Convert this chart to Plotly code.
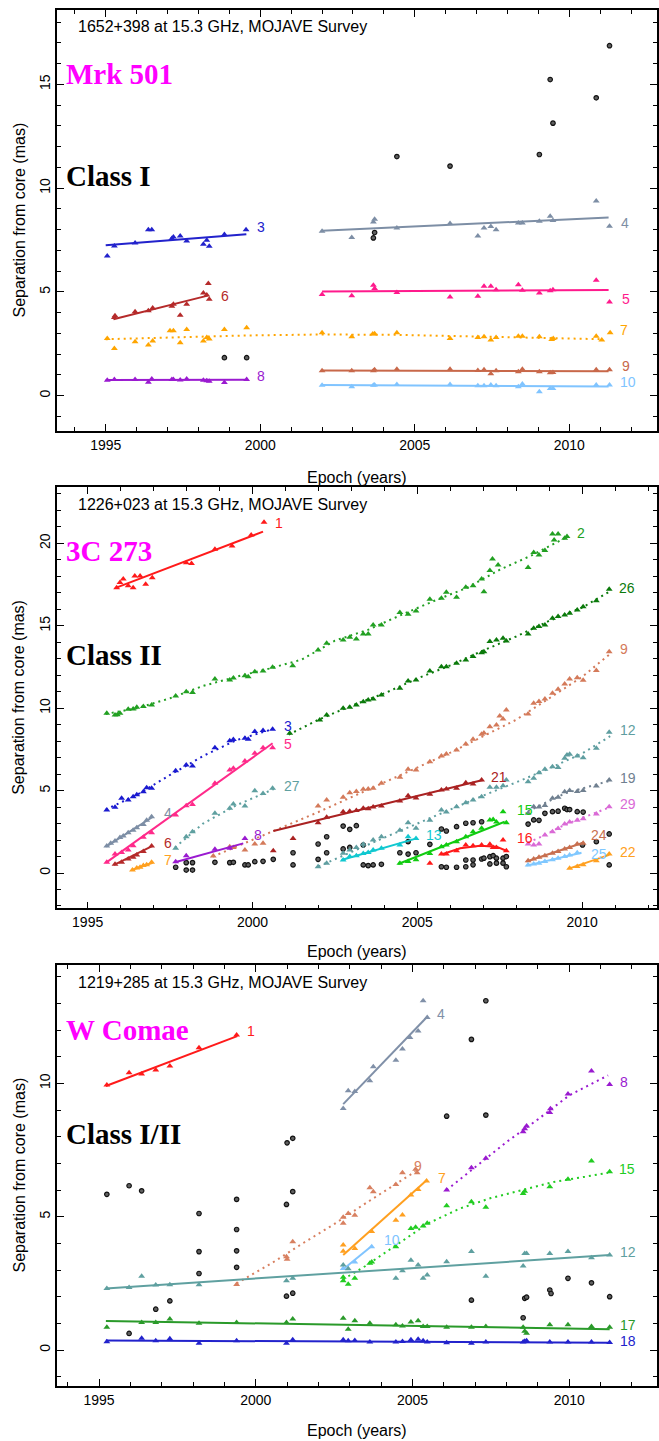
import plotly.graph_objects as go

W, H = 659, 1441

# ===================== 1652+398 (Mrk 501) =====================
mrk_c3_t = [1995.05, 1995.28, 1995.95, 1996.38, 1996.49, 1997.14, 1997.19, 1997.41, 1997.62, 1998.16, 1998.27, 1998.35, 1998.84, 1999.54]
mrk_c3_r = [6.73, 7.21, 7.36, 8.0, 8.0, 7.57, 7.64, 7.69, 7.45, 7.29, 7.49, 7.2, 7.77, 8.0]
mrk_c3_fit_t = [1995.0, 1999.55]
mrk_c3_fit_r = [7.25, 7.78]

mrk_c6_t = [1995.28, 1995.3, 1995.95, 1996.38, 1996.52, 1997.14, 1997.19, 1997.41, 1997.62, 1998.16, 1998.27, 1998.32, 1998.35]
mrk_c6_r = [3.77, 3.85, 4.04, 4.09, 4.23, 4.31, 4.4, 3.88, 4.41, 4.95, 4.85, 5.4, 4.65]
mrk_c6_fit_t = [1995.25, 1998.3]
mrk_c6_fit_r = [3.68, 4.82]

mrk_c7_t = [1995.05, 1995.28, 1995.95, 1996.38, 1996.52, 1997.08, 1997.19, 1997.41, 1997.62, 1998.16, 1998.27, 1998.35, 1998.84, 1999.56,
            2002.0, 2002.96, 2003.64, 2003.7, 2004.42, 2006.14, 2007.04, 2007.24, 2007.46, 2007.63, 2008.35, 2008.48, 2009.03, 2009.43,
            2009.48, 2010.87, 2011.05, 2011.32]
mrk_c7_r = [2.76, 2.28, 2.6, 2.44, 2.63, 3.13, 3.13, 2.55, 3.19, 2.63, 2.81, 2.73, 3.19, 3.27,
            3.03, 2.84, 2.97, 2.99, 3.03, 2.76, 2.81, 2.84, 2.68, 2.81, 2.87, 2.87, 2.84, 2.71,
            2.76, 2.87, 2.68, 3.03]
mrk_c7_fit_t = [1995.0, 1997.0, 1999.5, 2002.0, 2004.5, 2007.0, 2009.0, 2011.1]
mrk_c7_fit_r = [2.72, 2.8, 2.9, 2.95, 2.93, 2.85, 2.78, 2.72]

mrk_c8_t = [1995.05, 1995.28, 1995.95, 1996.38, 1996.49, 1997.14, 1997.19, 1997.41, 1997.62, 1998.16, 1998.27, 1998.35, 1998.84, 1999.56]
mrk_c8_r = [0.75, 0.78, 0.78, 0.65, 0.8, 0.78, 0.78, 0.76, 0.8, 0.75, 0.72, 0.7, 0.64, 0.78]
mrk_c8_fit_t = [1995.0, 1999.56]
mrk_c8_fit_r = [0.76, 0.77]

mrk_late_t = [2002.0, 2002.96, 2003.66, 2003.7, 2004.42, 2006.14, 2007.04, 2007.24, 2007.46, 2007.63, 2008.35, 2008.48, 2009.03,
              2009.38, 2009.47, 2010.87, 2011.3]
mrk_c4_r = [7.92, 7.62, 8.37, 8.5, 8.08, 8.29, 7.69, 8.08, 8.15, 8.0, 8.32, 8.32, 8.4, 8.64, 8.44, 9.38, 8.16]
mrk_c4_fit_t = [2002.0, 2011.27]
mrk_c4_fit_r = [7.95, 8.58]
mrk_c5_r = [4.87, 4.81, 5.32, 5.16, 4.97, 4.76, 4.79, 5.27, 5.27, 5.11, 5.35, 5.08, 4.95, 5.05, 5.1, 5.56, 4.52]
mrk_c5_fit_t = [2002.0, 2011.27]
mrk_c5_fit_r = [5.02, 5.09]
mrk_c9_r = [1.2, 1.2, 1.2, 1.25, 1.28, 1.28, 1.22, 1.25, 1.06, 1.2, 1.16, 1.28, 1.16, 1.1, 1.12, 1.25, 1.25]
mrk_c9_fit_t = [2002.0, 2011.27]
mrk_c9_fit_r = [1.22, 1.18]
mrk_c10_r = [0.5, 0.43, 0.5, 0.52, 0.54, 0.54, 0.48, 0.48, 0.52, 0.48, 0.43, 0.56, 0.19, 0.35, 0.35, 0.52, 0.52]
mrk_c10_fit_t = [2002.0, 2011.27]
mrk_c10_fit_r = [0.52, 0.44]

mrk_other_t = [1998.84, 1999.56, 2003.66, 2003.7, 2004.42, 2006.14, 2009.03, 2009.38, 2009.47, 2010.87, 2011.3]
mrk_other_r = [1.83, 1.83, 7.6, 7.86, 11.52, 11.06, 11.62, 15.23, 13.13, 14.35, 16.86]

# ===================== 1226+023 (3C 273) =====================
c273_c1_t = [1995.88, 1995.98, 1996.08, 1996.23, 1996.38, 1996.43, 1996.59, 1996.76, 1996.96, 1997.99, 1998.15, 1998.86, 1999.38, 1999.96, 2000.35]
c273_c1_r = [17.31, 17.62, 17.84, 17.42, 17.31, 18.02, 18.02, 17.52, 17.92, 18.83, 18.77, 19.64, 19.84, 20.51, 21.28]
c273_c1_fit_t = [1995.83, 2000.32]
c273_c1_fit_r = [17.28, 20.71]

c273_c2_t = [1995.58, 1995.83, 1995.9, 1995.98, 1996.23, 1996.38, 1996.49, 1996.69, 1996.94, 1997.67,
             1997.99, 1998.18, 1998.86, 1999.31, 1999.42, 1999.77, 1999.87, 2000.07, 2000.32, 2000.61,
             2001.22, 2001.99, 2002.25, 2002.75, 2002.95, 2003.15, 2003.36, 2003.51, 2003.66, 2003.91,
             2004.47, 2004.72, 2004.96, 2005.38, 2005.73, 2005.88, 2006.19, 2006.47, 2006.69, 2006.95,
             2007.02, 2007.2, 2007.28, 2007.45, 2008.36, 2008.53, 2008.69, 2008.87, 2009.1, 2009.15,
             2009.27, 2009.47, 2009.54]
c273_c2_r = [9.69, 9.59, 9.6, 9.69, 9.93, 9.95, 10.05, 10.1, 10.19, 10.74,
             11.0, 10.95, 11.77, 11.71, 11.83, 11.97, 11.9, 12.21, 12.26, 12.48,
             12.58, 13.53, 13.94, 14.14, 14.3, 14.2, 14.5, 14.5, 15.05, 15.05,
             15.8, 15.7, 15.9, 16.61, 16.67, 17.03, 16.73, 17.34, 17.42, 17.84,
             17.07, 18.35, 19.05, 18.69, 18.53, 19.44, 19.3, 19.56, 20.57, 20.21,
             20.57, 20.31, 20.41]
c273_c2_fit_t = [1995.55, 1996.5, 1997.5, 1998.5, 1999.5, 2000.5, 2001.5, 2002.5, 2003.5, 2004.5, 2005.5, 2006.5, 2007.5, 2008.5, 2009.55]
c273_c2_fit_r = [9.65, 10.0, 10.6, 11.35, 11.9, 12.4, 12.95, 14.1, 14.75, 15.65, 16.5, 17.3, 18.4, 19.3, 20.4]

c273_c26_t = [2001.13, 2002.04, 2002.25, 2002.75, 2002.95, 2003.15, 2003.36, 2003.51, 2003.66, 2003.91,
              2004.47, 2004.72, 2004.96, 2005.38, 2005.73, 2005.88, 2006.19, 2006.47, 2006.69, 2006.95,
              2007.02, 2007.2, 2007.4, 2007.6, 2007.7, 2008.36, 2008.53, 2008.69, 2008.87, 2009.1,
              2009.27, 2009.47, 2009.62, 2009.85, 2010.03, 2010.43, 2010.82]
c273_c26_r = [8.48, 9.28, 9.59, 9.99, 10.05, 10.2, 10.39, 10.5, 10.56, 10.8,
              11.21, 11.65, 11.71, 12.26, 12.52, 12.52, 12.72, 12.92, 13.13, 13.37,
              13.43, 14.04, 14.14, 14.24, 14.08, 14.5, 14.85, 14.95, 15.05, 15.46,
              15.56, 15.66, 15.76, 15.96, 16.16, 16.52, 17.21]
c273_c26_fit_t = [2001.1, 2002.0, 2003.0, 2004.0, 2005.0, 2006.0, 2007.0, 2008.0, 2009.0, 2010.0, 2010.85]
c273_c26_fit_r = [8.4, 9.3, 10.15, 10.9, 11.8, 12.6, 13.5, 14.35, 15.3, 16.1, 17.1]

c273_c9_t = [1998.81, 1999.31, 1999.42, 1999.77, 2000.07, 2000.32, 2001.99, 2002.25, 2002.75, 2002.95,
             2003.15, 2003.36, 2003.51, 2003.66, 2003.91, 2004.47, 2004.72, 2004.96, 2005.38, 2005.73,
             2005.88, 2006.19, 2006.47, 2006.69, 2006.95, 2007.02, 2007.2, 2007.4, 2007.5, 2007.6,
             2007.7, 2008.36, 2008.53, 2008.69, 2008.87, 2009.1, 2009.27, 2009.47, 2009.62, 2009.85,
             2010.03, 2010.43, 2010.82]
c273_c9_r = [1.03, 1.6, 1.55, 1.4, 1.76, 1.8, 4.07, 4.43, 4.59, 4.87,
             4.95, 5.08, 5.1, 5.15, 5.44, 5.81, 6.29, 6.25, 6.75, 7.1,
             7.22, 7.46, 7.83, 8.11, 8.42, 8.5, 8.88, 8.98, 9.53, 9.35,
             9.89, 9.65, 10.3, 10.4, 10.55, 10.9, 11.15, 11.47, 11.77, 11.85,
             11.7, 12.28, 13.43]
c273_c9_fit_t = [1998.8, 2000.0, 2001.0, 2002.0, 2003.0, 2004.0, 2005.0, 2006.0, 2007.0, 2008.0, 2009.0, 2010.0, 2010.85]
c273_c9_fit_r = [1.0, 2.0, 2.85, 3.7, 4.6, 5.5, 6.4, 7.3, 8.3, 9.3, 10.6, 11.9, 13.3]

c273_c3_t = [1995.58, 1995.83, 1996.03, 1996.23, 1996.38, 1996.49, 1996.69, 1996.79, 1996.94, 1997.67,
             1997.99, 1998.18, 1998.86, 1999.31, 1999.42, 1999.77, 1999.87, 2000.07, 2000.32, 2000.61]
c273_c3_r = [3.82, 3.99, 4.53, 4.43, 4.63, 4.75, 4.93, 5.18, 5.15, 6.21,
             6.55, 6.5, 7.6, 8.03, 8.1, 8.17, 8.12, 8.58, 8.64, 8.72]
c273_c3_fit_t = [1995.55, 1996.5, 1997.5, 1998.5, 1999.5, 2000.65]
c273_c3_fit_r = [3.85, 4.75, 5.95, 7.1, 8.05, 8.75]

c273_c5_t = [1995.58, 1995.83, 1996.03, 1996.23, 1996.38, 1996.69, 1996.94, 1997.67, 1997.99, 1998.18,
             1998.86, 1999.31, 1999.42, 1999.77, 2000.07, 2000.32, 2000.61]
c273_c5_r = [0.65, 1.15, 1.25, 1.4, 1.66, 2.17, 2.45, 3.52, 4.08, 4.15,
             5.44, 6.25, 6.35, 6.8, 7.26, 7.6, 7.6]
c273_c5_fit_t = [1995.56, 2000.61]
c273_c5_fit_r = [0.63, 7.87]

c273_c4_t = [1995.58, 1995.7, 1995.83, 1995.98, 1996.08, 1996.23, 1996.38, 1996.49, 1996.69, 1996.79, 1996.94]
c273_c4_r = [1.64, 1.8, 1.95, 2.15, 2.25, 2.45, 2.6, 2.75, 2.95, 3.2, 3.42]
c273_c4_fit_t = [1995.56, 1996.97]
c273_c4_fit_r = [1.6, 3.4]

c273_c6_t = [1995.83, 1996.03, 1996.23, 1996.38, 1996.49, 1996.69, 1996.94]
c273_c6_r = [0.53, 0.65, 0.85, 0.95, 1.1, 1.3, 1.64]
c273_c6_fit_t = [1995.8, 1996.97]
c273_c6_fit_r = [0.5, 1.65]

c273_c7_t = [1996.36, 1996.49, 1996.59, 1996.69, 1996.79, 1996.94]
c273_c7_r = [0.18, 0.3, 0.35, 0.45, 0.5, 0.65]
c273_c7_fit_t = [1996.36, 1996.97]
c273_c7_fit_r = [0.2, 0.62]

c273_c27_t = [1997.67, 1997.99, 1998.18, 1998.86, 1999.31, 1999.42, 1999.77, 2000.07, 2000.32, 2000.61]
c273_c27_r = [1.5, 2.2, 2.5, 3.62, 3.93, 4.19, 4.07, 4.99, 4.83, 5.14]
c273_c27_fit_t = [1997.65, 1998.5, 1999.5, 2000.65]
c273_c27_fit_r = [1.55, 3.0, 4.1, 5.1]

c273_c8_t = [1997.67, 1997.99, 1998.86, 1999.31, 1999.77]
c273_c8_r = [0.69, 1.05, 1.44, 1.5, 2.1]
c273_c8_fit_t = [1997.65, 1999.72]
c273_c8_fit_r = [0.65, 1.8]

c273_c21_t = [2000.63, 2001.23, 2001.99, 2002.25, 2002.75, 2002.95, 2003.15, 2003.36, 2003.51, 2003.66,
              2003.91, 2004.47, 2004.72, 2004.96, 2005.38, 2005.73, 2005.88, 2006.19, 2006.47, 2006.69, 2006.95]
c273_c21_r = [1.35, 2.1, 3.05, 3.38, 3.72, 3.75, 3.8, 3.93, 3.9, 4.0,
              4.07, 4.37, 4.69, 4.55, 4.78, 5.04, 5.1, 5.14, 5.48, 5.4, 5.64]
c273_c21_fit_t = [2000.63, 2006.99]
c273_c21_fit_r = [2.55, 5.64]

c273_c12_t = [2001.99, 2002.25, 2002.75, 2002.95, 2003.15, 2003.36, 2003.66, 2003.91, 2004.47, 2004.72,
              2004.96, 2005.38, 2005.73, 2005.88, 2006.19, 2006.47, 2006.69, 2006.95, 2007.2, 2007.4,
              2007.6, 2007.7, 2008.36, 2008.53, 2008.69, 2008.87, 2009.1, 2009.27, 2009.47, 2009.54,
              2009.62, 2009.85, 2010.03, 2010.43, 2010.82]
c273_c12_r = [0.38, 0.59, 1.2, 1.4, 1.55, 1.75, 2.0, 2.2, 2.6, 3.05,
              2.71, 3.2, 3.82, 3.7, 4.02, 4.27, 4.43, 4.63, 5.2, 5.2,
              5.3, 5.64, 5.54, 5.75, 6.09, 6.29, 6.45, 6.4, 6.96, 7.16,
              7.2, 7.1, 7.0, 7.57, 8.54]
c273_c12_fit_t = [2002.0, 2003.0, 2004.0, 2005.0, 2006.0, 2007.0, 2008.0, 2009.0, 2010.0, 2010.85]
c273_c12_fit_r = [0.4, 1.3, 2.15, 3.0, 3.85, 4.7, 5.5, 6.35, 7.25, 8.3]

c273_c13_t = [2002.75, 2002.95, 2003.15, 2003.36, 2003.51, 2003.66, 2003.91, 2004.47, 2004.72, 2004.96]
c273_c13_r = [0.79, 1.0, 1.05, 1.19, 1.25, 1.4, 1.5, 1.7, 2.2, 2.1]
c273_c13_fit_t = [2002.7, 2004.98]
c273_c13_fit_r = [0.79, 2.1]

c273_c15_t = [2004.47, 2004.72, 2004.96, 2005.38, 2005.73, 2005.88, 2006.19, 2006.47, 2006.69, 2006.95, 2007.2, 2007.3, 2007.4, 2007.6, 2007.7]
c273_c15_r = [0.59, 0.7, 0.8, 1.19, 1.6, 1.7, 1.9, 2.2, 2.5, 2.71, 3.22, 3.25, 3.1, 3.72, 3.05]
c273_c15_fit_t = [2004.42, 2007.65]
c273_c15_fit_r = [0.55, 3.11]

c273_c16_t = [2005.38, 2005.73, 2005.88, 2006.19, 2006.47, 2006.69, 2006.95, 2007.2, 2007.3, 2007.4, 2007.6, 2007.7]
c273_c16_r = [0.59, 1.15, 1.15, 1.35, 1.7, 1.65, 1.7, 1.75, 1.55, 1.55, 2.0, 1.35]
c273_c16_fit_t = [2005.73, 2006.3, 2006.9, 2007.4, 2007.7]
c273_c16_fit_r = [1.12, 1.5, 1.65, 1.6, 1.35]

c273_late_t = [2008.36, 2008.53, 2008.69, 2008.87, 2009.1, 2009.27, 2009.47, 2009.62, 2009.85, 2010.03, 2010.43, 2010.82]
c273_c19_r = [3.62, 4.02, 4.0, 4.1, 4.53, 4.6, 4.93, 5.0, 4.95, 5.0, 5.28, 5.64]
c273_c19_fit_t = [2008.36, 2009.5, 2010.85]
c273_c19_fit_r = [3.75, 4.85, 5.6]
c273_c29_r = [1.76, 1.7, 1.76, 2.31, 2.5, 2.7, 2.97, 3.1, 3.2, 3.3, 3.58, 4.02]
c273_c29_fit_t = [2008.36, 2008.7, 2009.5, 2010.85]
c273_c29_fit_r = [1.85, 2.15, 2.95, 4.0]

c273_c24_t = [2008.36, 2008.53, 2008.69, 2008.87, 2009.1, 2009.27, 2009.47, 2009.62, 2009.85, 2010.03]
c273_c24_r = [0.75, 0.85, 0.95, 1.05, 1.2, 1.3, 1.45, 1.55, 1.76, 1.8]
c273_c24_fit_t = [2008.31, 2010.03]
c273_c24_fit_r = [0.7, 1.84]

c273_c25_t = [2008.36, 2008.53, 2008.69, 2008.87, 2009.1, 2009.27, 2009.47, 2009.62, 2009.85]
c273_c25_r = [0.49, 0.55, 0.6, 0.7, 0.8, 0.9, 1.0, 1.1, 1.23]
c273_c25_fit_t = [2008.31, 2009.98]
c273_c25_fit_r = [0.45, 1.23]

c273_c22_t = [2009.62, 2009.85, 2010.03, 2010.43, 2010.82]
c273_c22_r = [0.29, 0.4, 0.5, 0.75, 1.15]
c273_c22_fit_t = [2009.62, 2010.82]
c273_c22_fit_r = [0.28, 1.1]

c273_other_t = [1997.67, 1997.99, 1998.18, 1997.99, 1998.18, 1998.86, 1999.31, 1999.42, 1999.77, 1999.87,
                2000.07, 2000.32, 2000.63, 2001.23, 2001.23, 2001.99, 2002.25, 2001.99, 2002.25, 2002.75,
                2002.95, 2003.15, 2002.75, 2002.95, 2003.36, 2003.36, 2003.51, 2003.66, 2003.91, 2004.47,
                2004.72, 2004.96, 2004.72, 2005.38, 2005.73, 2005.88, 2006.19, 2006.47, 2006.69, 2006.95,
                2005.73, 2005.88, 2006.19, 2006.47, 2006.47, 2006.69, 2006.69, 2006.95, 2007.02, 2007.2,
                2007.3, 2007.4, 2007.6, 2007.7, 2007.2, 2007.4, 2007.6, 2007.7, 2008.36, 2008.53,
                2008.69, 2008.87, 2009.1, 2009.27, 2009.47, 2009.54, 2009.62, 2009.85, 2010.03, 2010.01,
                2010.43, 2010.82, 2010.82]
c273_other_r = [0.35, 0.63, 0.63, 0.18, 0.18, 0.65, 0.63, 0.65, 0.49, 0.49,
                0.69, 0.71, 0.83, 1.23, 0.49, 1.76, 2.2, 0.83, 1.23, 2.85,
                2.65, 2.87, 1.46, 1.55, 1.7, 0.49, 0.45, 0.49, 0.53, 1.23,
                1.15, 1.23, 1.9, 1.74, 2.67, 2.55, 2.81, 3.02, 3.05, 3.11,
                0.38, 0.35, 0.35, 0.38, 0.79, 0.79, 0.5, 0.85, 0.9, 0.99,
                1.05, 0.9, 0.9, 1.0, 0.55, 0.6, 0.6, 0.38, 2.97, 3.22,
                3.2, 3.62, 3.72, 3.75, 3.93, 3.85, 3.85, 3.72, 3.7, 1.7,
                1.9, 2.37, 0.49]

# ===================== 1219+285 (W Comae) =====================
wc_c1_t = [1995.25, 1995.96, 1996.36, 1996.81, 1997.26, 1998.19, 1999.39]
wc_c1_r = [9.94, 10.4, 10.35, 10.5, 10.65, 11.34, 11.81]
wc_c1_fit_t = [1995.22, 1999.41]
wc_c1_fit_r = [9.9, 11.77]

wc_c4_t = [2002.79, 2002.95, 2003.16, 2003.64, 2003.75, 2004.47, 2004.68, 2004.92, 2005.18, 2005.34, 2005.47]
wc_c4_r = [9.06, 9.72, 9.7, 10.1, 10.62, 10.87, 11.29, 11.72, 11.96, 13.1, 12.47]
wc_c4_fit_t = [2002.79, 2005.47]
wc_c4_fit_r = [9.22, 12.5]

wc_c8_t = [2006.09, 2006.88, 2007.34, 2008.53, 2008.58, 2008.64, 2009.38, 2009.4, 2009.96, 2010.71, 2011.29]
wc_c8_r = [6.0, 6.84, 7.19, 8.19, 8.3, 8.4, 8.91, 9.05, 9.6, 10.46, 9.96]
wc_c8_fit_t = [2006.09, 2007.0, 2008.0, 2009.0, 2010.0, 2011.24]
wc_c8_fit_r = [6.0, 6.85, 7.8, 8.65, 9.55, 10.3]

wc_c15_t = [2002.79, 2002.79, 2002.95, 2003.16, 2003.64, 2003.7, 2004.47, 2004.95, 2005.1, 2005.34,
            2005.47, 2006.09, 2006.88, 2007.34, 2008.53, 2008.58, 2009.38, 2009.96, 2010.71, 2011.29]
wc_c15_r = [2.73, 2.6, 2.47, 2.69, 3.25, 3.3, 3.87, 4.56, 4.6, 4.65,
            4.75, 5.41, 5.56, 5.35, 5.87, 5.95, 6.12, 6.4, 7.09, 6.69]
wc_c15_fit_t = [2002.79, 2003.5, 2004.5, 2005.5, 2006.5, 2007.5, 2008.5, 2009.5, 2010.5, 2011.24]
wc_c15_fit_r = [2.65, 3.15, 3.95, 4.75, 5.3, 5.7, 6.0, 6.3, 6.5, 6.65]

wc_c9_t = [1999.39, 2000.98, 2001.0, 2001.18, 2002.79, 2002.79, 2002.95, 2003.16, 2003.64, 2003.75, 2004.47, 2004.68, 2005.1, 2005.15]
wc_c9_r = [2.46, 3.5, 3.4, 4.06, 4.75, 4.98, 5.12, 5.05, 6.09, 5.94, 6.21, 6.65, 6.78, 6.65]
wc_c9_fit_t = [1999.39, 2000.5, 2001.5, 2002.5, 2003.5, 2004.5, 2005.1]
wc_c9_fit_r = [2.5, 3.25, 4.0, 4.72, 5.5, 6.25, 6.7]

wc_c7_t = [2002.79, 2002.79, 2003.16, 2003.7, 2004.47, 2004.68, 2004.95, 2005.18, 2005.45]
wc_c7_r = [3.94, 3.7, 3.81, 4.44, 4.87, 5.06, 5.81, 6.02, 6.34]
wc_c7_fit_t = [2002.79, 2005.45]
wc_c7_fit_r = [3.56, 6.37]

wc_c10_t = [2002.79, 2003.16, 2003.7]
wc_c10_r = [3.06, 3.3, 3.87]
wc_c10_fit_t = [2002.79, 2003.72]
wc_c10_fit_r = [3.03, 3.92]

wc_c12_t = [1995.25, 1995.96, 1996.36, 1996.81, 1997.26, 1998.19, 2000.98, 2001.18, 2002.79, 2002.95,
            2004.47, 2004.68, 2004.95, 2005.18, 2005.34, 2005.47, 2006.09, 2006.88, 2007.34, 2008.53,
            2008.58, 2008.64, 2009.38, 2009.96, 2010.71, 2011.29]
wc_c12_r = [2.31, 2.34, 2.77, 2.44, 2.45, 2.45, 2.6, 2.69, 3.19, 3.05,
            2.69, 2.97, 3.37, 3.19, 2.69, 2.81, 3.31, 3.69, 2.77, 3.15,
            3.62, 3.62, 3.62, 3.69, 3.46, 3.56]
wc_c12_fit_t = [1995.22, 2011.29]
wc_c12_fit_r = [2.31, 3.56]

wc_core_t = [1995.25, 1996.36, 1996.81, 1997.26, 1998.19, 1999.39, 2000.98, 2001.18, 2002.79, 2002.95,
             2003.16, 2003.64, 2004.47, 2004.68, 2004.95, 2005.18, 2005.34, 2005.47, 2006.09, 2006.88,
             2007.34, 2008.53, 2008.58, 2008.64, 2009.38, 2009.96, 2010.71, 2011.29]
wc_c17_r = [0.85, 1.03, 1.03, 1.16, 1.0, 1.03, 1.03, 1.16, 1.19, 0.78,
            1.1, 1.0, 0.95, 0.9, 1.05, 1.1, 0.88, 0.88, 0.85, 0.85,
            0.88, 0.85, 0.7, 0.63, 0.95, 0.95, 0.88, 0.85]
wc_c17_fit_t = [1995.22, 2011.29]
wc_c17_fit_r = [1.09, 0.78]
wc_c18_r = [0.31, 0.44, 0.35, 0.42, 0.25, 0.35, 0.25, 0.38, 0.38, 0.35,
            0.36, 0.3, 0.3, 0.32, 0.38, 0.4, 0.35, 0.3, 0.27, 0.25,
            0.3, 0.3, 0.33, 0.35, 0.3, 0.3, 0.3, 0.28]
wc_c18_fit_t = [1995.22, 2011.29]
wc_c18_fit_r = [0.36, 0.27]

wc_other_t = [1995.25, 1995.96, 1996.36, 1995.96, 1996.81, 1997.26, 1998.19, 1998.19, 1998.19, 1999.39,
              1999.39, 1999.39, 1999.39, 2000.98, 2001.18, 2001.0, 2001.18, 2000.98, 2001.18, 2006.88,
              2007.34, 2006.88, 2006.09, 2007.34, 2008.53, 2008.58, 2008.64, 2009.38, 2009.42, 2009.96,
              2010.71, 2011.29]
wc_other_r = [5.84, 6.16, 5.97, 0.62, 1.53, 1.84, 5.12, 3.69, 2.87, 5.65,
              4.52, 3.72, 3.1, 5.46, 5.94, 7.77, 7.94, 2.02, 2.13, 1.87,
              13.1, 11.65, 8.77, 8.81, 1.21, 1.94, 1.98, 2.25, 2.12, 2.69,
              2.52, 2.0]

# ------------------------------------------------------------------
SOLID = "solid"
DOTTED = "2px,4px"

panels = [
    dict(
        ax="", xr=[1993.424, 2012.836], yr=[-1.70, 18.58], top=10, bottom=431,
        header="1652+398 at 15.3 GHz, MOJAVE Survey", name="Mrk 501", cls="Class I",
        name_y=74, cls_y=176, title_y=477,
        other=(mrk_other_t, mrk_other_r),
        series=[
            ("3", mrk_c3_t, mrk_c3_r, mrk_c3_fit_t, mrk_c3_fit_r, "#2222cc", SOLID, 9, 7),
            ("6", mrk_c6_t, mrk_c6_r, mrk_c6_fit_t, mrk_c6_fit_r, "#b52a2a", SOLID, 11, 0),
            ("7", mrk_c7_t, mrk_c7_r, mrk_c7_fit_t, mrk_c7_fit_r, "#ffa500", DOTTED, 15, 9),
            ("8", mrk_c8_t, mrk_c8_r, mrk_c8_fit_t, mrk_c8_fit_r, "#9a1ad0", SOLID, 8, 4),
            ("4", mrk_late_t, mrk_c4_r, mrk_c4_fit_t, mrk_c4_fit_r, "#7d8ea5", SOLID, 10, -5),
            ("5", mrk_late_t, mrk_c5_r, mrk_c5_fit_t, mrk_c5_fit_r, "#ff1a8c", SOLID, 11, -9),
            ("9", mrk_late_t, mrk_c9_r, mrk_c9_fit_t, mrk_c9_fit_r, "#c8684a", SOLID, 11, 5),
            ("10", mrk_late_t, mrk_c10_r, mrk_c10_fit_t, mrk_c10_fit_r, "#80c4ff", SOLID, 9, 5),
        ],
    ),
    dict(
        ax="2", xr=[1994.07, 2012.27], yr=[-2.14, 23.40], top=487.3, bottom=908.3,
        header="1226+023 at 15.3 GHz, MOJAVE Survey", name="3C 273", cls="Class II",
        name_y=551, cls_y=655, title_y=951,
        other=(c273_other_t, c273_other_r),
        series=[
            ("1", c273_c1_t, c273_c1_r, c273_c1_fit_t, c273_c1_fit_r, "#ff1a1a", SOLID, 10, 9),
            ("2", c273_c2_t, c273_c2_r, c273_c2_fit_t, c273_c2_fit_r, "#22a022", DOTTED, 8, 4),
            ("26", c273_c26_t, c273_c26_r, c273_c26_fit_t, c273_c26_fit_r, "#0b7a0b", DOTTED, 7, 3),
            ("9", c273_c9_t, c273_c9_r, c273_c9_fit_t, c273_c9_fit_r, "#d47a5a", DOTTED, 8, 5),
            ("3", c273_c3_t, c273_c3_r, c273_c3_fit_t, c273_c3_fit_r, "#1a1ad0", DOTTED, 8, 3),
            ("5", c273_c5_t, c273_c5_r, c273_c5_fit_t, c273_c5_fit_r, "#ff2a8a", SOLID, 9, -1),
            ("27", c273_c27_t, c273_c27_r, c273_c27_fit_t, c273_c27_fit_r, "#5fa0a0", DOTTED, 8, 3),
            ("4", c273_c4_t, c273_c4_r, c273_c4_fit_t, c273_c4_fit_r, "#7d8ea5", SOLID, 9, 4),
            ("6", c273_c6_t, c273_c6_r, c273_c6_fit_t, c273_c6_fit_r, "#b52a2a", SOLID, 9, 3),
            ("7", c273_c7_t, c273_c7_r, c273_c7_fit_t, c273_c7_fit_r, "#ffa020", SOLID, 9, 3),
            ("8", c273_c8_t, c273_c8_r, c273_c8_fit_t, c273_c8_fit_r, "#9a1ad0", SOLID, 9, 8),
            ("21", c273_c21_t, c273_c21_r, c273_c21_fit_t, c273_c21_fit_r, "#aa2222", SOLID, 6, 3),
            ("12", c273_c12_t, c273_c12_r, c273_c12_fit_t, c273_c12_fit_r, "#5f9ea0", DOTTED, 8, 6),
            ("13", c273_c13_t, c273_c13_r, c273_c13_fit_t, c273_c13_fit_r, "#10c8d0", SOLID, 7, 3),
            ("15", c273_c15_t, c273_c15_r, c273_c15_fit_t, c273_c15_fit_r, "#11cc11", SOLID, 10, 12),
            ("16", c273_c16_t, c273_c16_r, c273_c16_fit_t, c273_c16_fit_r, "#ff1a1a", SOLID, 9, 13),
            ("19", c273_late_t, c273_c19_r, c273_c19_fit_t, c273_c19_fit_r, "#708090", DOTTED, 8, 3),
            ("29", c273_late_t, c273_c29_r, c273_c29_fit_t, c273_c29_fit_r, "#da6ad6", DOTTED, 8, 3),
            ("24", c273_c24_t, c273_c24_r, c273_c24_fit_t, c273_c24_fit_r, "#c87050", SOLID, 6, 8),
            ("25", c273_c25_t, c273_c25_r, c273_c25_fit_t, c273_c25_fit_r, "#80c8ff", SOLID, 7, -1),
            ("22", c273_c22_t, c273_c22_r, c273_c22_fit_t, c273_c22_fit_r, "#ffa020", SOLID, 9, 3),
        ],
    ),
    dict(
        ax="3", xr=[1993.66, 2012.80], yr=[-1.35, 14.44], top=965, bottom=1386,
        header="1219+285 at 15.3 GHz, MOJAVE Survey", name="W Comae", cls="Class I/II",
        name_y=1030, cls_y=1134, title_y=1430,
        other=(wc_other_t, wc_other_r),
        series=[
            ("1", wc_c1_t, wc_c1_r, wc_c1_fit_t, wc_c1_fit_r, "#ff1a1a", SOLID, 8, 5),
            ("4", wc_c4_t, wc_c4_r, wc_c4_fit_t, wc_c4_fit_r, "#8090a8", SOLID, 8, 3),
            ("8", wc_c8_t, wc_c8_r, wc_c8_fit_t, wc_c8_fit_r, "#9a1ad0", DOTTED, 10, -7),
            ("15", wc_c15_t, wc_c15_r, wc_c15_fit_t, wc_c15_fit_r, "#22cc22", DOTTED, 9, 4),
            ("9", wc_c9_t, wc_c9_r, wc_c9_fit_t, wc_c9_fit_r, "#d88060", DOTTED, -4, 5),
            ("7", wc_c7_t, wc_c7_r, wc_c7_fit_t, wc_c7_fit_r, "#ffa020", SOLID, 9, 2),
            ("10", wc_c10_t, wc_c10_r, wc_c10_fit_t, wc_c10_fit_r, "#80c4ff", SOLID, 10, 5),
            ("12", wc_c12_t, wc_c12_r, wc_c12_fit_t, wc_c12_fit_r, "#5fa0a0", SOLID, 8, 3),
            ("17", wc_core_t, wc_c17_r, wc_c17_fit_t, wc_c17_fit_r, "#2a9a2a", SOLID, 8, 4),
            ("18", wc_core_t, wc_c18_r, wc_c18_fit_t, wc_c18_fit_r, "#2222cc", SOLID, 8, 2),
        ],
    ),
]

SANS = "Liberation Sans"
SERIF = "Liberation Serif"
X0, X1 = 57, 657


def py2paper(y):
    return 1 - y / H


fig = go.Figure()
annotations = []
layout = {}

for p in panels:
    xa, ya = "x" + p["ax"], "y" + p["ax"]
    xkey, ykey = "xaxis" + p["ax"], "yaxis" + p["ax"]

    # components not assigned to any tracked feature
    ot, orr = p["other"]
    assert len(ot) == len(orr)
    fig.add_trace(go.Scatter(
        x=ot, y=orr, mode="markers", xaxis=xa, yaxis=ya, showlegend=False, hoverinfo="skip",
        marker=dict(symbol="circle", size=4.5, color="#606060", line=dict(color="#111111", width=1.2)),
    ))

    for lab, t, r, ft, fr, col, dash, dx, dy in p["series"]:
        assert len(t) == len(r), lab
        fig.add_trace(go.Scatter(
            x=ft, y=fr, mode="lines", xaxis=xa, yaxis=ya, showlegend=False, hoverinfo="skip",
            line=dict(color=col, width=2, dash=dash),
        ))
        fig.add_trace(go.Scatter(
            x=t, y=r, mode="markers", xaxis=xa, yaxis=ya, showlegend=False, hoverinfo="skip",
            marker=dict(symbol="triangle-up", size=6, color=col, line=dict(width=0)),
        ))
        annotations.append(dict(
            x=ft[-1], y=fr[-1], xref=xa, yref=ya, text=lab, showarrow=False,
            xanchor="left", yanchor="middle", xshift=dx, yshift=dy,
            font=dict(family=SANS, size=14, color=col),
        ))

    dom_y = [py2paper(p["bottom"]), py2paper(p["top"])]
    axis_common = dict(
        showgrid=False, zeroline=False, showline=True, linecolor="black", linewidth=1.5,
        mirror="allticks", ticks="inside", tickwidth=1.3, tickcolor="black",
        tickfont=dict(family=SANS, size=14, color="black"),
    )
    layout[xkey] = dict(
        axis_common, domain=[X0 / W, X1 / W], range=p["xr"], anchor=ya,
        tick0=1995, dtick=5, ticklen=7,
        minor=dict(dtick=1, tick0=1995, ticks="inside", ticklen=4, tickcolor="black", tickwidth=1),
    )
    layout[ykey] = dict(
        axis_common, domain=dom_y, range=p["yr"], anchor=xa,
        tick0=0, dtick=5, ticklen=7, tickangle=-90,
        minor=dict(dtick=1, tick0=0, ticks="inside", ticklen=4, tickcolor="black", tickwidth=1),
    )

    # header, source name and class
    annotations.append(dict(
        x=76 / W, y=py2paper(p["top"] + 17), xref="paper", yref="paper", text=p["header"],
        showarrow=False, xanchor="left", yanchor="middle", font=dict(family=SANS, size=16, color="black"),
    ))
    annotations.append(dict(
        x=64 / W, y=py2paper(p["name_y"]), xref="paper", yref="paper", text="<b>%s</b>" % p["name"],
        showarrow=False, xanchor="left", yanchor="middle", font=dict(family=SERIF, size=29, color="#ff00ff"),
    ))
    annotations.append(dict(
        x=64 / W, y=py2paper(p["cls_y"]), xref="paper", yref="paper", text="<b>%s</b>" % p["cls"],
        showarrow=False, xanchor="left", yanchor="middle", font=dict(family=SERIF, size=29, color="black"),
    ))
    # axis titles
    annotations.append(dict(
        x=(X0 + X1) / 2 / W, y=py2paper(p["title_y"]), xref="paper", yref="paper", text="Epoch (years)",
        showarrow=False, xanchor="center", yanchor="middle", font=dict(family=SANS, size=16, color="black"),
    ))
    annotations.append(dict(
        x=19 / W, y=py2paper((p["top"] + p["bottom"]) / 2), xref="paper", yref="paper",
        text="Separation from core (mas)", textangle=-90,
        showarrow=False, xanchor="center", yanchor="middle", font=dict(family=SANS, size=16, color="black"),
    ))

fig.update_layout(
    width=W, height=H, margin=dict(l=0, r=0, t=0, b=0),
    paper_bgcolor="white", plot_bgcolor="white",
    annotations=annotations, **layout,
)

fig.write_html("out.html", config={"displayModeBar": False})
